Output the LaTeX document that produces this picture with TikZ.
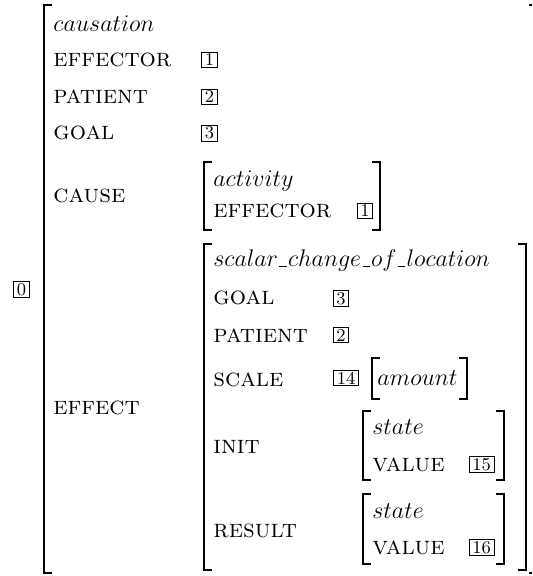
\documentclass[tikz,border=0pt]{standalone}
\usepackage{tikz}
\newcommand{\uscore}{\mbox{\kern.06em\vbox{\hrule width.3em}\kern.06em}}

\begin{document}
\begin{tikzpicture}[
    x=0.5pt, y=-0.5pt,
    every node/.style={inner sep=0pt, anchor=base west},
    feat/.style={font=\fontsize{12.8}{15}\selectfont\scshape},
    sort/.style={font=\fontsize{12}{14}\selectfont},
    tag/.style={draw, anchor=base, line width=0.4pt, inner xsep=1.6pt, inner ysep=0.8pt, font=\fontsize{9}{10}\selectfont},
    brk/.style={line width=0.6pt}
]
\clip (0,0) rectangle (532,576);
% outer matrix
\draw[brk] (52,5) -| (44,573) -- (52,573);
\draw[brk] (529,5) -| (537,573) -- (529,573);
\node[tag] (tag0) at (21.5,295) {0};
\node[sort] (causation) at (53,32) {$causation$};
\node[feat] (effector) at (53,67) {effector};
\node[feat] (patient) at (53,104) {patient};
\node[feat] (goal) at (53,140) {goal};
\node[feat] (cause) at (53,203) {cause};
\node[feat] (effect) at (53,414) {effect};
\node[tag] (tag1) at (209.5,66) {1};
\node[tag] (tag2) at (209.5,103) {2};
\node[tag] (tag3) at (209.5,139) {3};
% cause value
\draw[brk] (212,162) -| (204,230) -- (212,230);
\draw[brk] (372,162) -| (380,230) -- (372,230);
\node[sort] (activity) at (213,187) {$activity$};
\node[feat] (effector2) at (213,218) {effector};
\node[tag] (tag1b) at (365,217) {1};
% effect value
\draw[brk] (212,244) -| (204,570) -- (212,570);
\draw[brk] (518,244) -| (526,570) -- (518,570);
\node[sort] (scalar) at (213,267) {$scalar\uscore change\uscore of\uscore location$};
\node[feat] (goal2) at (213,305) {goal};
\node[feat] (patient2) at (213,342) {patient};
\node[feat] (scale) at (213,386) {scale};
\node[feat] (init) at (213,453) {init};
\node[feat] (result) at (213,537) {result};
\node[tag] (tag3b) at (341,304) {3};
\node[tag] (tag2b) at (341,341) {2};
\node[tag] (tag14) at (346,384) {14};
% scale value
\draw[brk] (380,358) -| (372,399) -- (380,399);
\draw[brk] (459,358) -| (467,399) -- (459,399);
\node[sort] (amount) at (377,385) {$amount$};
% init value
\draw[brk] (371,411) -| (363,480) -- (371,480);
\draw[brk] (496,411) -| (504,480) -- (496,480);
\node[sort] (state1) at (372,434) {$state$};
\node[feat] (value1) at (372,471) {value};
\node[tag] (tag15) at (481.5,470) {15};
% result value
\draw[brk] (371,494) -| (363,564) -- (371,564);
\draw[brk] (496,494) -| (504,564) -- (496,564);
\node[sort] (state2) at (372,518) {$state$};
\node[feat] (value2) at (372,554) {value};
\node[tag] (tag16) at (481.5,553) {16};
\end{tikzpicture}
\end{document}
